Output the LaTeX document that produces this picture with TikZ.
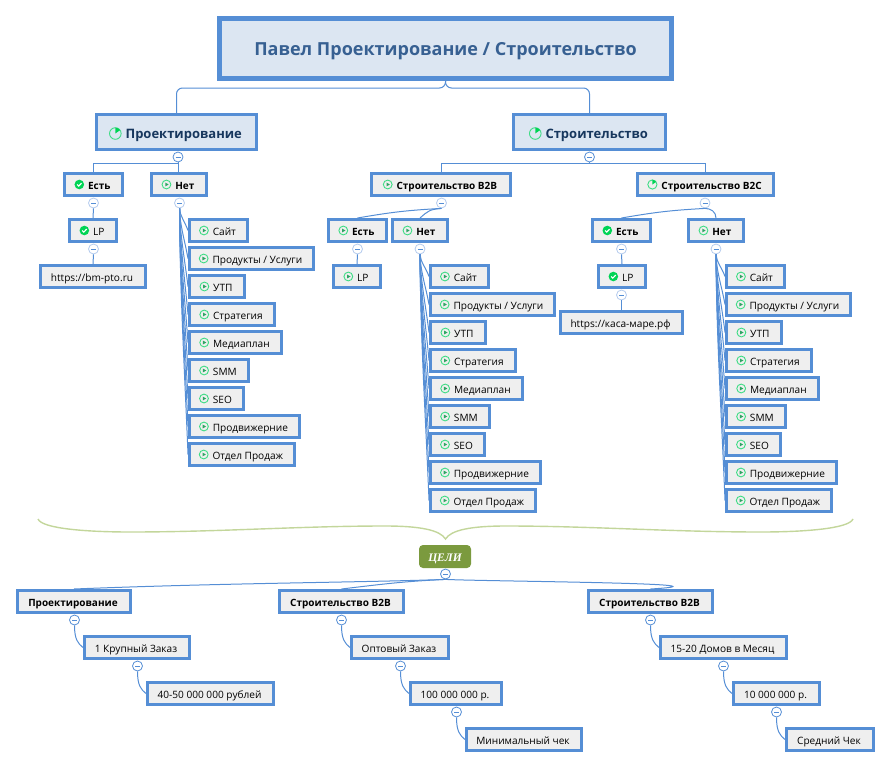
\documentclass[tikz,border=0pt]{standalone}
\usepackage{fontspec}
\setmainfont{Open Sans}
\newfontfamily\celifont{Liberation Serif}
\usetikzlibrary{calc}
\definecolor{bord}{HTML}{558ED5}
\definecolor{pale}{HTML}{DCE6F2}
\definecolor{grey}{HTML}{EFEFEF}
\definecolor{rootink}{HTML}{376092}
\definecolor{secink}{HTML}{17375E}
\definecolor{tick}{HTML}{00D455}
\definecolor{ring}{HTML}{3DDC84}
\definecolor{leaf}{HTML}{C3D69B}
\definecolor{olive}{HTML}{7B9A3E}
\definecolor{soft}{HTML}{B4CBEE}
\newcommand{\play}{\tikz[baseline=-4.5pt]{\draw[ring,line width=.9pt] (0,0) circle (4.4pt); \fill[ring!75!black] (-1.2pt,-1.9pt) -- (-1.2pt,1.9pt) -- (2.2pt,0pt) -- cycle;}\hspace{4pt}}
\newcommand{\done}{\tikz[baseline=-4.5pt]{\fill[tick] (0,0) circle (4.8pt); \draw[white,line width=1.1pt] (-2.2pt,0pt) -- (-.6pt,-1.6pt) -- (2.3pt,1.4pt);}\hspace{4pt}}
\newcommand{\clock}[1]{\tikz[baseline=-4.5pt]{\draw[ring,line width=.9pt] (0,0) circle (#1); \fill[tick] (0pt,0pt) -- (0pt,#1) arc (90:35:#1) -- cycle;}\hspace{4pt}}
\newcommand{\itemlist}[4]{
	\foreach \bw/\txt [count=\n] in {58/Сайт, 124/{Продукты / Услуги}, 55/УТП, 85/Стратегия, 92/Медиаплан, 59/SMM, 54/SEO, 110/Продвижерние, 105/Отдел Продаж} {
		\node[it, minimum width=\bw] (#1\n) at (#2,{#3+28*(\n-1)}) {\play\txt};
		\draw[ln] (#4.south) .. controls ($(#4.south)!.35!(#4.south |- #1\n.west)+(.5,0)$) and ($(#1\n.west)!.3!(#1\n.west |- #4.south)+(-3,-2)$) .. (#1\n.west);
	}
}
\begin{document}
\begin{tikzpicture}[x=1pt,y=-1pt]
	\tikzstyle{top} = [draw=bord, fill=pale, line width=5pt, text=rootink, font=\fontsize{18}{22}\selectfont\bfseries, minimum width=452, minimum height=60, inner sep=0pt, text height=15pt, text depth=0pt]
	\tikzstyle{sec} = [draw=bord, fill=pale, line width=3pt, text=secink, font=\fontsize{13}{15}\selectfont\bfseries, minimum height=35, inner sep=0pt, text height=12pt, text depth=0pt, execute at begin node=\hspace*{-2pt}]
	\tikzstyle{it} = [draw=bord, fill=grey, line width=3pt, font=\fontsize{10.1}{12}\selectfont, minimum height=22, inner sep=0pt, anchor=west, text height=9pt, text depth=0pt, execute at begin node=\hspace*{-2pt}]
	\tikzstyle{bb} = [it, font=\fontsize{10}{12}\selectfont\bfseries]
	\tikzstyle{ln} = [draw=bord, line width=1pt]
	\tikzstyle{tg} = [circle, draw=bord, fill=white, line width=.8pt, minimum size=10, inner sep=0pt, path picture={\draw[bord,line width=.7pt] ($(path picture bounding box.center)+(-2.5,0)$) -- ($(path picture bounding box.center)+(2.5,0)$);}]
	\tikzstyle{tgl} = [tg, draw=soft]
	\useasboundingbox (0,0) rectangle (891,768);

	\node[top] (root) at (445.5,48.5) {Павел Проектирование / Строительство};
	\node[sec, minimum width=160] (pr) at (176.5,132) {\clock{5.8pt}Проектирование};
	\node[sec, minimum width=152] (st) at (589.5,132) {\clock{5.8pt}Строительство};
	\draw[ln, rounded corners=6] (root.south) -- ++(0,7) -| (pr.north);
	\draw[ln, rounded corners=6] (root.south) -- ++(0,7) -| (st.north);

	\node[tg] (mpr) at (178,157) {};
	\node[bb, minimum width=58] (pes) at (63,184.5) {\done Есть};
	\node[bb, minimum width=55] (pno) at (150,184.5) {\play Нет};
	\node[it, minimum width=47] (plp) at (68,230.5) {\done LP};
	\node[it, minimum width=105] (pur) at (39,276.5) {https://bm-pto.ru};
	\node[tgl] (mpes) at (93.5,203) {};
	\node[tgl] (mpno) at (179.5,203) {};
	\node[tgl] (mplp) at (93.5,249) {};
	\draw[ln] (mpr.south) -- ++(0,1) -| (pes.north);
	\draw[ln] (mpr.south) -- (mpr.south |- pno.north);
	\draw[ln] (mpes.south) -- (plp.north);
	\draw[ln] (mplp.south) -- (pur.north);
	\itemlist{pa}{188}{230.5}{mpno}

	\node[tg] (mst) at (589.5,157) {};
	\node[bb, minimum width=139] (bb) at (370,184.5) {\play Строительство B2B};
	\node[bb, minimum width=136] (bc) at (636,184.5) {\clock{4.6pt}Строительство B2C};
	\draw[ln] (mst.south) -- ++(0,1) -| (bb.north);
	\draw[ln] (mst.south) -- ++(0,1) -| (bc.north);

	\node[tgl] (mbb) at (441.5,203) {};
	\node[bb, minimum width=58] (bbes) at (327,230.5) {\play Есть};
	\node[bb, minimum width=55] (bbno) at (391,230.5) {\play Нет};
	\node[it, minimum width=47] (bblp) at (332,276.5) {\play LP};
	\node[tgl] (mbbes) at (357.5,249) {};
	\node[tgl] (mbbno) at (420,249) {};
	\draw[ln] (mbb.south) .. controls +(-35,2) and +(35,-6) .. (bbes.north);
	\draw[ln] (mbb.south) .. controls +(-12,1) and +(8,-7) .. (bbno.north);
	\draw[ln] (mbbes.south) -- (bblp.north);
	\itemlist{pb}{429}{276.5}{mbbno}

	\node[tgl] (mbc) at (705,203) {};
	\node[bb, minimum width=58] (bces) at (591,230.5) {\done Есть};
	\node[bb, minimum width=55] (bcno) at (687,230.5) {\play Нет};
	\node[it, minimum width=47] (bclp) at (597,276.5) {\done LP};
	\node[it, minimum width=122] (bcur) at (559,322.5) {https://каса-маре.рф};
	\node[tgl] (mbces) at (621.5,249) {};
	\node[tgl] (mbcno) at (716,249) {};
	\node[tgl] (mbclp) at (621.5,295) {};
	\draw[ln] (mbc.south) .. controls +(-35,2) and +(35,-6) .. (bces.north);
	\draw[ln] (mbc.south) .. controls +(6,0) and +(0,-6) .. (bcno.north);
	\draw[ln] (mbces.south) -- (bclp.north);
	\draw[ln] (mbclp.south) -- (bcur.north);
	\itemlist{pc}{725}{276.5}{mbcno}

	\draw[leaf, line width=1.4pt] (38,519) .. controls (42,529) and (90,532) .. (130,532) .. controls (220,532) and (300,526) .. (385,526) .. controls (420,526) and (440,530) .. (445.5,539) .. controls (451,530) and (471,526) .. (506,526) .. controls (591,526) and (671,532) .. (761,532) .. controls (801,532) and (849,529) .. (853,519);

	\node[draw=none, fill=olive, rounded corners=4, text=white, font=\fontsize{11.5}{13}\celifont\bfseries\itshape, minimum width=52, minimum height=23, inner sep=0pt, text height=9pt, text depth=0pt] (goal) at (445,556.5) {ЦЕЛИ};
	\node[tg] (mgo) at (445.5,574) {};
	\node[bb, minimum width=113] (gpr) at (16,601.5) {Проектирование};
	\node[bb, minimum width=124] (gbb) at (278,601.5) {Строительство B2B};
	\node[bb, minimum width=124] (gbc) at (587,601.5) {Строительство B2B};
	\draw[ln] (mgo.south) .. controls +(-80,3) and +(150,-6) .. (gpr.north);
	\draw[ln] (mgo.south) .. controls +(-40,2) and +(50,-6) .. (gbb.north);
	\draw[ln] (mgo.south) .. controls +(40,2) and +(100,-6) .. (gbc.north);

	\node[tg] (ma) at (74.5,620) {};
	\node[it, minimum width=105] (a1) at (83,647.5) {1 Крупный Заказ};
	\node[tg] (ma1) at (137.5,666) {};
	\node[it, minimum width=126] (a2) at (146,693.5) {40-50 000 000 рублей};
	\draw[ln] (ma.south) .. controls +(0,14) and +(-5,-4) .. (a1.west);
	\draw[ln] (ma1.south) .. controls +(0,14) and +(-5,-4) .. (a2.west);

	\node[tg] (mb) at (341.5,620) {};
	\node[it, minimum width=97] (b1) at (350,647.5) {Оптовый Заказ};
	\node[tg] (mb1) at (400.5,666) {};
	\node[it, minimum width=91] (b2) at (409,693.5) {100 000 000 р.};
	\node[tg] (mb2) at (456.5,712) {};
	\node[it, minimum width=115] (b3) at (465,739.5) {Минимальный чек};
	\draw[ln] (mb.south) .. controls +(0,14) and +(-5,-4) .. (b1.west);
	\draw[ln] (mb1.south) .. controls +(0,14) and +(-5,-4) .. (b2.west);
	\draw[ln] (mb2.south) .. controls +(0,14) and +(-5,-4) .. (b3.west);

	\node[tg] (mc) at (650.5,620) {};
	\node[it, minimum width=126] (c1) at (659,647.5) {15-20 Домов в Месяц};
	\node[tg] (mc1) at (723.5,666) {};
	\node[it, minimum width=86] (c2) at (732,693.5) {10 000 000 р.};
	\node[tg] (mc2) at (776.5,712) {};
	\node[it, minimum width=87] (c3) at (785,739.5) {Средний Чек};
	\draw[ln] (mc.south) .. controls +(0,14) and +(-5,-4) .. (c1.west);
	\draw[ln] (mc1.south) .. controls +(0,14) and +(-5,-4) .. (c2.west);
	\draw[ln] (mc2.south) .. controls +(0,14) and +(-5,-4) .. (c3.west);
\end{tikzpicture}
\end{document}
